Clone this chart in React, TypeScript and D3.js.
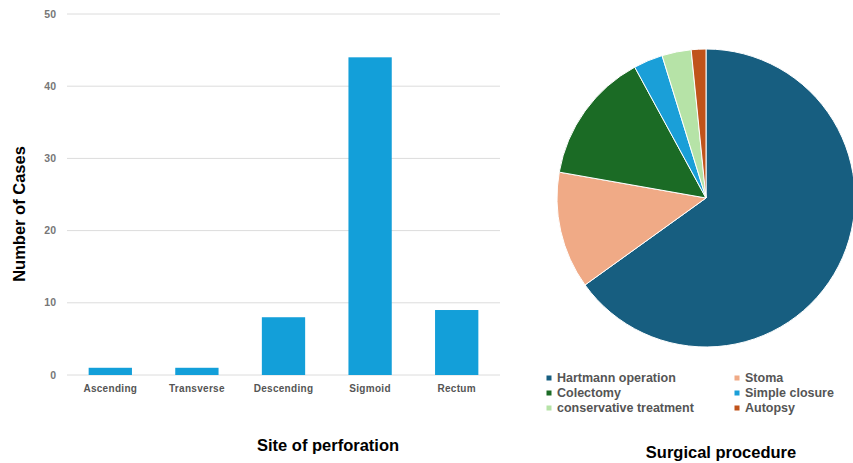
import React from "react";
import * as d3 from "d3";

const sites = ["Ascending", "Transverse", "Descending", "Sigmoid", "Rectum"];
const siteCounts = [1, 1, 8, 44, 9];
const yTicks = [0, 10, 20, 30, 40, 50];

const procedures = ["Hartmann operation", "Stoma", "Colectomy", "Simple closure", "conservative treatment", "Autopsy"];
const procedureCounts = [41, 8, 9, 2, 2, 1];
const procedureColors = ["#175e80", "#f0aa86", "#1b6b25", "#1a9fd8", "#b6e3a7", "#c0531b"];

export default function App() {
  const W = 853, H = 463;
  const x = d3.scaleBand<string>().domain(sites).range([67, 500]).paddingInner(0.5).paddingOuter(0.25);
  const y = d3.scaleLinear().domain([0, 50]).range([375, 14]);

  const pie = d3.pie<number>().sort(null).value((d) => d)(procedureCounts);
  const arc = d3.arc<d3.PieArcDatum<number>>().innerRadius(0).outerRadius(149);
  const cx = 706, cy = 198;

  const legendPos = [
    [549, 378], [737, 378],
    [549, 393], [737, 393],
    [549, 408], [737, 408],
  ];

  const font = "'Liberation Sans', Arial, sans-serif";

  return (
    <svg width={W} height={H} style={{ position: "absolute", left: 0, top: 0, background: "#fff" }} fontFamily={font}>
      {yTicks.map((t) => (
        <g key={t}>
          <line x1={67} x2={500} y1={y(t)} y2={y(t)} stroke="#dcdcdc" strokeWidth={1} />
          <text x={56} y={y(t)} dy="0.35em" textAnchor="end" fontSize={10.5} fontWeight="bold" fill="#777">{t}</text>
        </g>
      ))}
      {sites.map((s, i) => (
        <rect key={s} x={x(s)!} y={y(siteCounts[i])} width={x.bandwidth()} height={y(0) - y(siteCounts[i])} fill="#139fd9" />
      ))}
      {sites.map((s) => (
        <text key={s} x={x(s)! + x.bandwidth() / 2} y={392} textAnchor="middle" fontSize={10} fontWeight="bold" fill="#555" letterSpacing={0.3}>{s}</text>
      ))}
      <text transform="translate(25,214) rotate(-90)" textAnchor="middle" fontSize={16.5} fontWeight="bold" fill="#000">Number of Cases</text>
      <text x={328} y={451} textAnchor="middle" fontSize={16.5} fontWeight="bold" fill="#000">Site of perforation</text>

      <g transform={`translate(${cx},${cy})`}>
        {pie.map((p, i) => (
          <path key={i} d={arc(p)!} fill={procedureColors[i]} stroke="#fff" strokeWidth={1} />
        ))}
      </g>
      {procedures.map((p, i) => (
        <g key={p}>
          <rect x={legendPos[i][0] - 2.5} y={legendPos[i][1] - 2.5} width={5} height={5} fill={procedureColors[i]} />
          <text x={legendPos[i][0] + 8} y={legendPos[i][1]} dy="0.35em" fontSize={12.5} fontWeight="bold" fill="#555">{p}</text>
        </g>
      ))}
      <text x={721} y={458} textAnchor="middle" fontSize={16.5} fontWeight="bold" fill="#000">Surgical procedure</text>
    </svg>
  );
}
